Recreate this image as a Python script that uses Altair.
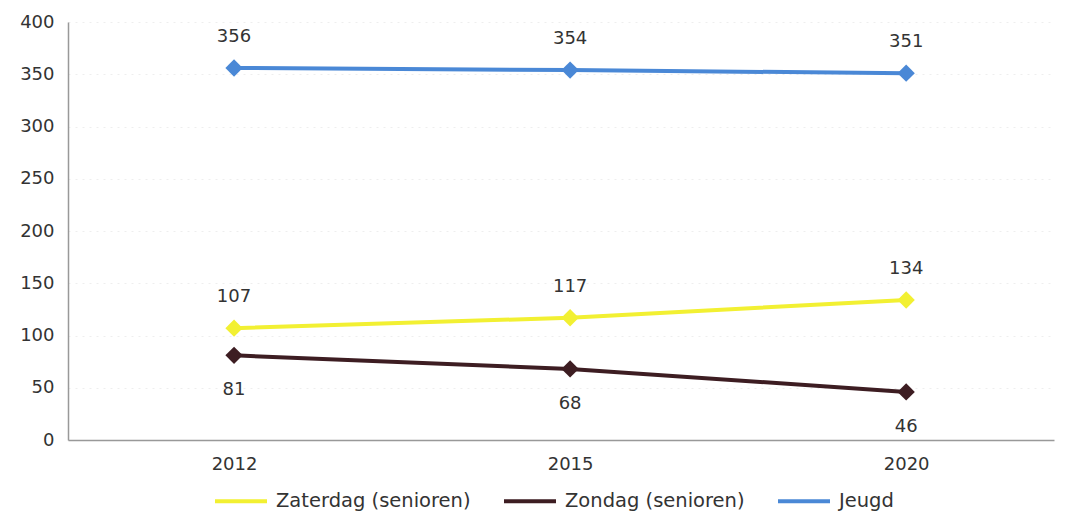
import altair as alt
import pandas as pd

years = ["2012", "2015", "2020"]
series_names = ["Zaterdag (senioren)", "Zondag (senioren)", "Jeugd"]
zaterdag = [107, 117, 134]
zondag = [81, 68, 46]
jeugd = [356, 354, 351]
colors = ["#f2f032", "#3d1d22", "#4a88d6"]

rows = []
for name, vals in zip(series_names, [zaterdag, zondag, jeugd]):
    for y, v in zip(years, vals):
        rows.append({"jaar": y, "serie": name, "waarde": v})
df = pd.DataFrame(rows)

FONT = "DejaVu Sans"

x = alt.X("jaar:O", sort=years, title=None,
          scale=alt.Scale(type="point", padding=0.467, align=0.529),
          axis=alt.Axis(labelAngle=0, labelFont=FONT, labelFontSize=18, labelColor="#333",
                        labelPadding=15, ticks=False, domainColor="#999", domainWidth=1.5,
                        grid=False))
y = alt.Y("waarde:Q", title=None,
          scale=alt.Scale(domain=[0, 400], nice=False),
          axis=alt.Axis(values=[0, 50, 100, 150, 200, 250, 300, 350, 400],
                        labelFont=FONT, labelFontSize=18, labelColor="#333",
                        labelPadding=14, ticks=False, domainColor="#999", domainWidth=1.5,
                        grid=True, gridColor="#eeeeee", gridDash=[2, 5]))
color_scale = alt.Scale(domain=series_names, range=colors)

base = alt.Chart(df)

lines = base.mark_line(strokeWidth=4).encode(
    x=x, y=y,
    color=alt.Color("serie:N", scale=color_scale,
                    legend=alt.Legend(orient="none", legendX=145, legendY=451,
                                      direction="horizontal", title=None,
                                      symbolType="stroke", symbolSize=2704,
                                      symbolStrokeWidth=4, labelFont=FONT,
                                      labelFontSize=19.5, labelColor="#333",
                                      labelLimit=400,
                                      columnPadding=25, labelOffset=7)),
)

points = base.mark_point(shape="diamond", filled=True, size=300, opacity=1).encode(
    x=x, y=y,
    color=alt.Color("serie:N", scale=color_scale, legend=None),
)

labels_above = base.transform_filter(
    alt.datum.serie != "Zondag (senioren)"
).mark_text(dy=-31, font=FONT, fontSize=18, color="#333").encode(
    x=x, y=y, text="waarde:Q"
)

labels_below = base.transform_filter(
    alt.datum.serie == "Zondag (senioren)"
).mark_text(dy=35, font=FONT, fontSize=18, color="#333").encode(
    x=x, y=y, text="waarde:Q"
)

chart = alt.layer(lines, points, labels_above, labels_below).properties(
    width=986, height=418,
    autosize=alt.AutoSizeParams(type="none"),
    padding={"left": 60, "top": 14, "right": 7, "bottom": 76},
).configure(background="white").configure_view(strokeWidth=0)

chart.save("out.html", embed_options={"renderer": "svg", "actions": False})
